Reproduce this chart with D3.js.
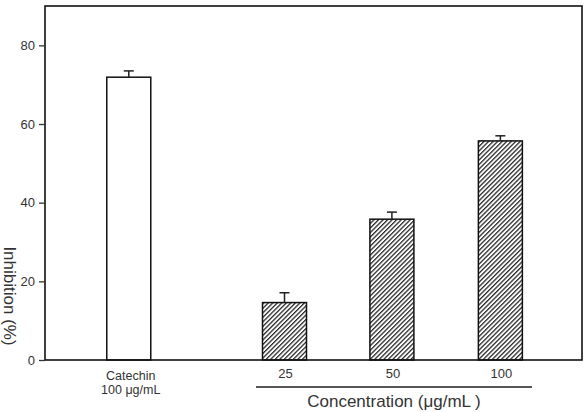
<html>
<head>
  <script src="https://d3js.org/d3.v7.min.js"></script>
  <style>
    body { margin: 0; background: #fff; }
    text { font-family: "Liberation Sans", Arial, sans-serif; fill: #333; }
  </style>
</head>
<body>
  <svg id="chart" width="587" height="412"></svg>
  <script>
    // data
    const groups = ["Catechin", "25", "50", "100"];
    const inhibition = [71.9, 14.6, 35.8, 55.7];
    const errors = [1.6, 2.5, 1.8, 1.3];
    const yTicks = [0, 20, 40, 60, 80];

    const plotLeft = 45, plotRight = 582, plotTop = 6, plotBottom = 360;
    const barW = 44;

    const svg = d3.select("svg#chart");

    // catechin sits apart from the concentration group
    const slot = [0.78, 2.23, 3.23, 4.24];
    const xScale = d3.scaleLinear().domain([0, 5]).range([plotLeft, plotRight]);
    const yScale = d3.scaleLinear().domain([0, 90]).range([plotBottom, plotTop]);

    const defs = svg.append("defs");
    const pat = defs.append("pattern")
      .attr("id", "hatch")
      .attr("patternUnits", "userSpaceOnUse")
      .attr("width", 3.2)
      .attr("height", 3.2)
      .attr("patternTransform", "rotate(45)");
    pat.append("rect").attr("width", 3.2).attr("height", 3.2).attr("fill", "#fff");
    pat.append("line")
      .attr("x1", 0).attr("y1", 0).attr("x2", 0).attr("y2", 3.2)
      .attr("stroke", "#2a2a2a").attr("stroke-width", 2.6);

    // bars
    svg.selectAll("rect.bar").data(groups)
      .join("rect")
      .attr("class", "bar")
      .attr("x", (d, i) => xScale(slot[i]) - barW / 2)
      .attr("y", (d, i) => yScale(inhibition[i]))
      .attr("width", barW)
      .attr("height", (d, i) => yScale(0) - yScale(inhibition[i]))
      .attr("fill", (d, i) => i === 0 ? "#fff" : "url(#hatch)")
      .attr("stroke", "#111")
      .attr("stroke-width", 1.5);

    // error bars
    const eb = svg.selectAll("g.err").data(groups).join("g").attr("class", "err");
    eb.append("line")
      .attr("x1", (d, i) => xScale(slot[i]))
      .attr("x2", (d, i) => xScale(slot[i]))
      .attr("y1", (d, i) => yScale(inhibition[i]))
      .attr("y2", (d, i) => yScale(inhibition[i] + errors[i]))
      .attr("stroke", "#222").attr("stroke-width", 1.5);
    eb.append("line")
      .attr("x1", (d, i) => xScale(slot[i]) - 5)
      .attr("x2", (d, i) => xScale(slot[i]) + 5)
      .attr("y1", (d, i) => yScale(inhibition[i] + errors[i]))
      .attr("y2", (d, i) => yScale(inhibition[i] + errors[i]))
      .attr("stroke", "#222").attr("stroke-width", 1.5);

    // frame
    svg.append("rect")
      .attr("x", plotLeft).attr("y", plotTop)
      .attr("width", plotRight - plotLeft).attr("height", plotBottom - plotTop)
      .attr("fill", "none").attr("stroke", "#111").attr("stroke-width", 1.6);

    // y axis
    const yAxis = d3.axisLeft(yScale).tickValues(yTicks).tickSize(6).tickPadding(4);
    const yg = svg.append("g").attr("transform", `translate(${plotLeft},0)`).call(yAxis);
    yg.select(".domain").remove();
    yg.selectAll(".tick line").attr("stroke", "#333").attr("stroke-width", 1.3);
    yg.selectAll(".tick text").style("font-size", "13px").attr("fill", "#333")
      .style("font-family", "'Liberation Sans', Arial, sans-serif");

    svg.append("text")
      .attr("transform", "translate(4,296) rotate(90)")
      .attr("text-anchor", "middle")
      .style("font-size", "17px")
      .text("Inhibition (%)");

    // x labels
    svg.append("text")
      .attr("x", xScale(slot[0]) + 2).attr("y", 380)
      .attr("text-anchor", "middle").style("font-size", "12.5px")
      .text(groups[0]);
    svg.append("text")
      .attr("x", xScale(slot[0]) + 2).attr("y", 394)
      .attr("text-anchor", "middle").style("font-size", "12.5px")
      .text("100 \u03bcg/mL");

    svg.selectAll("text.conc").data(groups.slice(1))
      .join("text")
      .attr("class", "conc")
      .attr("x", (d, i) => xScale(slot[i + 1]) + 1)
      .attr("y", 378)
      .attr("text-anchor", "middle")
      .style("font-size", "13px")
      .text(d => d);

    svg.append("line")
      .attr("x1", 256).attr("x2", 532)
      .attr("y1", 387).attr("y2", 387)
      .attr("stroke", "#555").attr("stroke-width", 1.8);

    svg.append("text")
      .attr("x", 394).attr("y", 407)
      .attr("text-anchor", "middle")
      .style("font-size", "17px")
      .text("Concentration (\u03bcg/mL )");
  </script>
</body>
</html>
